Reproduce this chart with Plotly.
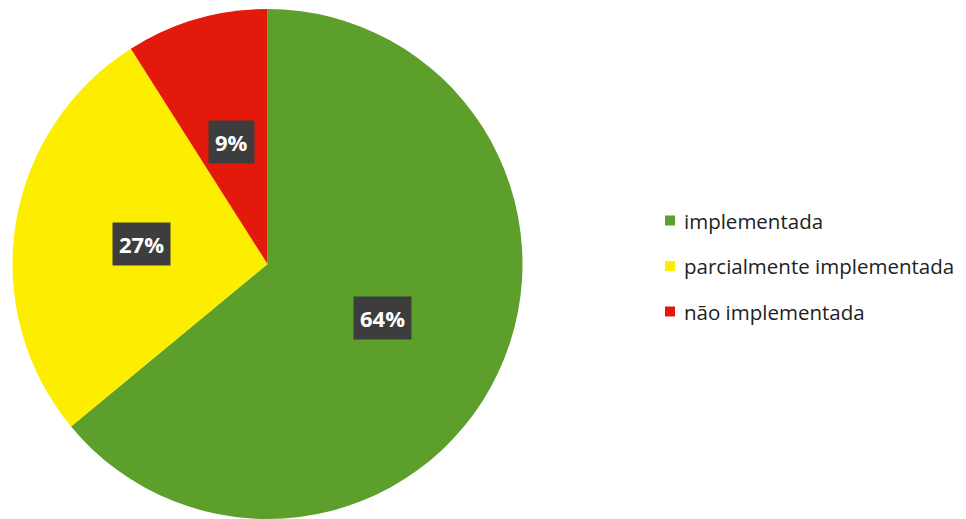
import math
import plotly.graph_objects as go

categories = ["implementada", "parcialmente implementada", "não implementada"]
values = [64, 27, 9]
colors = ["#5c9f2b", "#fdee00", "#e31a0b"]

W, H = 966, 519
dom_x = [12.5 / W, 522.5 / W]
dom_y = [0.0, 510 / H]

fig = go.Figure(
    go.Pie(
        labels=categories,
        values=values,
        marker=dict(colors=colors, line=dict(width=0)),
        sort=False,
        direction="clockwise",
        rotation=0,
        textinfo="none",
        hoverinfo="label+percent",
        showlegend=False,
        domain=dict(x=dom_x, y=dom_y),
    )
)

# percentage labels placed at half radius along each slice bisector
cx_px = (dom_x[0] + dom_x[1]) / 2 * W
cy_px = (dom_y[0] + dom_y[1]) / 2 * H
R = min((dom_x[1] - dom_x[0]) * W, (dom_y[1] - dom_y[0]) * H) / 2
total = sum(values)
cum = 0
annotations = []
for v in values:
    theta = 2 * math.pi * (cum + v / 2) / total
    cum += v
    x = (cx_px + 0.5 * R * math.sin(theta)) / W
    y = (cy_px + 0.5 * R * math.cos(theta)) / H
    annotations.append(dict(
        x=x, y=y, xref="paper", yref="paper",
        text=f"<b>{round(100 * v / total)}%</b>",
        showarrow=False,
        font=dict(family="Open Sans", size=22, color="white"),
        bgcolor="#3d3d3d",
        borderpad=6,
        xanchor="center", yanchor="middle",
    ))

# legend drawn manually
shapes = []
leg_y0 = 220.5
leg_step = 45.5
for i, (name, col) in enumerate(zip(categories, colors)):
    yc = leg_y0 + i * leg_step
    shapes.append(dict(
        type="rect", xref="paper", yref="paper",
        x0=665 / W, x1=675 / W, y0=(H - yc - 5) / H, y1=(H - yc + 5) / H,
        fillcolor=col, line=dict(width=0),
    ))
    annotations.append(dict(
        x=682 / W, y=(H - yc) / H, xref="paper", yref="paper",
        text=name, showarrow=False,
        font=dict(family="Open Sans", size=20.5, color="#222222"),
        xanchor="left", yanchor="middle",
    ))

fig.update_layout(
    width=W, height=H,
    margin=dict(l=0, r=0, t=0, b=0),
    paper_bgcolor="white",
    plot_bgcolor="white",
    annotations=annotations,
    shapes=shapes,
)

fig.write_html("out.html")
